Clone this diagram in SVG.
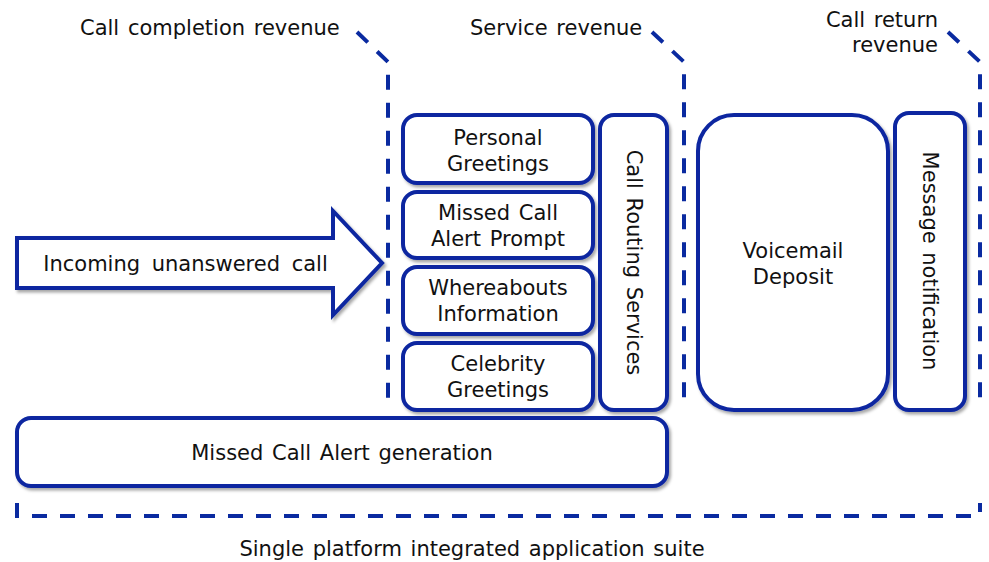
<svg xmlns="http://www.w3.org/2000/svg" width="989" height="562" viewBox="0 0 989 562">
<defs>
<style>
text{font-family:"DejaVu Sans","Verdana",sans-serif;font-size:21px;fill:#111;word-spacing:2px;}
.m{text-anchor:middle;}
.box{fill:#fff;stroke:#0a26a0;stroke-width:4;filter:url(#sh);}
.dash{fill:none;stroke:#0a2aa0;stroke-width:4;stroke-dasharray:15 13;}
</style>
<filter id="sh" x="-10%" y="-10%" width="130%" height="130%">
<feDropShadow dx="2" dy="2.5" stdDeviation="1.5" flood-color="#000" flood-opacity="0.35"/>
</filter>
</defs>
<rect width="989" height="562" fill="#fff"/>
<g id="connectors">
<path class="dash" d="M357,32 L388,62 L388,405"/>
<path class="dash" d="M652,32 L684,62 L684,405"/>
<path class="dash" d="M948,32 L980,62 L980,405"/>
<path class="dash" d="M17,503 L17,516 L980,516 L980,503"/>
</g>
<g id="labels">
<text x="80" y="35">Call completion revenue</text>
<text x="470" y="35">Service revenue</text>
<text x="938" y="27" text-anchor="end">Call return</text>
<text x="938" y="52" text-anchor="end">revenue</text>
<text x="472" y="556" class="m">Single platform integrated application suite</text>
</g>
<g id="incoming">
<path class="box" d="M17,238 L333,238 L333,211 L382,263 L333,315 L333,288 L17,288 Z" stroke-linejoin="miter"/>
<text x="185.5" y="271" class="m" style="word-spacing:5px">Incoming unanswered call</text>
</g>
<g id="personal">
<rect class="box" x="403" y="115" width="190" height="68" rx="14"/>
<text x="498" y="145" class="m">Personal</text>
<text x="498" y="171" class="m">Greetings</text>
</g>
<g id="missed-prompt">
<rect class="box" x="403" y="192" width="190" height="66" rx="14"/>
<text x="498" y="220" class="m">Missed Call</text>
<text x="498" y="246" class="m">Alert Prompt</text>
</g>
<g id="whereabouts">
<rect class="box" x="403" y="267" width="190" height="67" rx="14"/>
<text x="498" y="295" class="m">Whereabouts</text>
<text x="498" y="321" class="m">Information</text>
</g>
<g id="celebrity">
<rect class="box" x="403" y="343" width="190" height="67" rx="14"/>
<text x="498" y="371" class="m">Celebrity</text>
<text x="498" y="397" class="m">Greetings</text>
</g>
<g id="routing">
<rect class="box" x="600" y="115" width="67" height="295" rx="14"/>
<text class="m" transform="translate(634,262.5) rotate(90)" x="0" y="7">Call Routing Services</text>
</g>
<g id="voicemail">
<rect class="box" x="698" y="115" width="190" height="295" rx="36"/>
<text x="793" y="258" class="m">Voicemail</text>
<text x="793" y="284" class="m">Deposit</text>
</g>
<g id="notification">
<rect class="box" x="895" y="113" width="70" height="297" rx="14"/>
<text class="m" transform="translate(930,261) rotate(90)" x="0" y="7">Message notification</text>
</g>
<g id="generation">
<rect class="box" x="17" y="418" width="650" height="68" rx="14"/>
<text x="342" y="460" class="m">Missed Call Alert generation</text>
</g>
</svg>
